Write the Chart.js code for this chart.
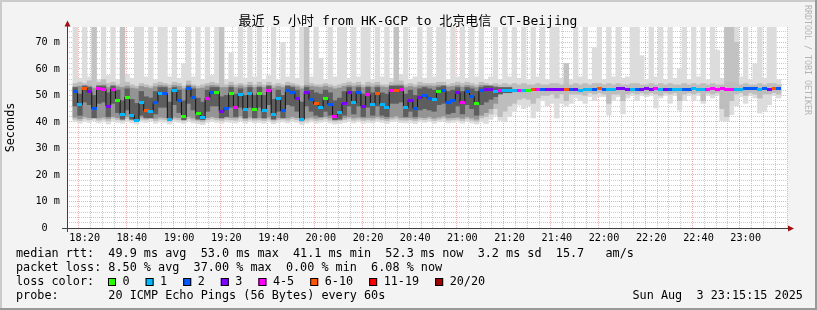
<!DOCTYPE html>
<html>
<head>
<meta charset="utf-8">
<script src="https://cdn.jsdelivr.net/npm/chart.js@4.4.0/dist/chart.umd.min.js"></script>
<style>
  html, body { margin: 0; padding: 0; background: #f3f3f3; }
  canvas { display: block; }
</style>
</head>
<body>
<canvas id="smoke" width="817" height="310"></canvas>
<script>
// 2-minute bins from 18:15 to 23:15 (x = minutes after 18:00)
const xTickMinutes = [20, 40, 60, 80, 100, 120, 140, 160, 180, 200, 220, 240, 260, 280, 300];
const xTickLabels = ['18:20', '18:40', '19:00', '19:20', '19:40', '20:00', '20:20', '20:40',
  '21:00', '21:20', '21:40', '22:00', '22:20', '22:40', '23:00'];
const yTickValues = [0, 10, 20, 30, 40, 50, 60, 70];
const yTickLabels = ['0  ', '10 m', '20 m', '30 m', '40 m', '50 m', '60 m', '70 m'];

// median rtt (ms) per bin
const median = [
  51.5, 46.5, 52.7, 51.5, 45.0, 52.7, 52.4, 46.0, 52.4, 48.2,
  42.7, 49.4, 42.5, 40.4, 47.2, 44.2, 44.0, 47.4, 50.9, 50.7,
  41.1, 51.8, 48.0, 41.9, 52.7, 49.4, 43.2, 41.5, 48.9, 51.2,
  51.2, 44.0, 45.0, 50.7, 45.6, 50.4, 44.7, 50.7, 44.5, 50.7,
  44.2, 51.9, 42.7, 48.7, 44.2, 51.7, 51.2, 48.8, 41.1, 51.2,
  48.5, 46.9, 45.5, 48.8, 46.7, 41.9, 43.4, 47.0, 51.2, 47.2,
  51.2, 46.0, 50.2, 46.7, 50.9, 46.7, 45.4, 51.9, 51.9, 52.4,
  45.4, 48.2, 45.2, 49.2, 50.0, 49.0, 48.5, 51.5, 52.0, 47.5,
  48.2, 51.0, 47.2, 51.4, 49.6, 47.0, 51.8, 52.2, 52.2, 51.6,
  52.0, 51.8, 51.8, 51.7, 52.0, 52.0, 52.0, 52.2, 52.4, 52.4,
  52.4, 52.3, 52.4, 52.4, 52.4, 52.3, 52.4, 52.0, 52.1, 52.2,
  52.4, 52.5, 52.2, 52.3, 52.4, 52.5, 52.5, 52.4, 52.2, 52.4,
  52.4, 52.5, 52.4, 52.5, 52.2, 52.4, 52.3, 52.2, 52.2, 52.4,
  52.4, 52.5, 52.3, 52.4, 52.3, 52.5, 52.4, 52.5, 52.4, 52.3,
  52.2, 52.2, 52.5, 52.5, 52.6, 52.4, 52.5, 52.4, 52.6, 52.5
];
// loss class per bin (index into lossColors)
const lossClass = [
  2, 1, 5, 3, 2, 4, 4, 3, 4, 0,
  1, 0, 1, 1, 1, 5, 1, 2, 1, 2,
  1, 1, 2, 0, 2, 2, 0, 1, 4, 2,
  0, 3, 2, 0, 4, 1, 1, 1, 0, 0,
  1, 4, 1, 1, 2, 2, 2, 3, 1, 3,
  2, 5, 1, 0, 2, 4, 1, 3, 3, 1,
  2, 3, 4, 1, 5, 1, 1, 4, 5, 4,
  1, 3, 2, 3, 2, 2, 1, 0, 2, 2,
  2, 3, 4, 2, 2, 0, 2, 3, 3, 1,
  4, 1, 1, 1, 4, 1, 0, 5, 4, 2,
  3, 3, 3, 3, 5, 2, 3, 1, 1, 1,
  2, 5, 2, 1, 1, 3, 3, 3, 1, 2,
  3, 3, 3, 4, 1, 3, 2, 1, 1, 2,
  2, 1, 1, 1, 4, 4, 4, 4, 4, 4,
  1, 1, 2, 2, 2, 1, 2, 3, 5, 2
];
// slowest / fastest ping per bin
const pingMax = [
  76, 56.5, 76, 57, 76, 56, 76, 57.5, 76, 56,
  76, 58, 56.5, 76, 76, 57, 76, 56, 76, 76,
  57, 76, 56.5, 62, 76, 57, 76, 56, 76, 57.5,
  76, 76, 56, 66, 57, 76, 56.5, 76, 57, 76,
  56, 57.5, 76, 56, 70, 57, 76, 56.5, 76, 76,
  57, 76, 64, 56, 76, 57, 76, 76, 56.5, 76,
  57, 76, 76, 56, 76, 57, 76, 56.5, 76, 58,
  76, 56, 57, 76, 56.5, 76, 57, 76, 76, 56,
  76, 57, 76, 56.5, 76, 57, 76, 56, 57, 76,
  56, 76, 57, 76, 56.5, 76, 56, 76, 57, 76,
  56, 76, 76, 56.5, 62, 56, 76, 57, 76, 56,
  68, 76, 56, 76, 57, 76, 56.5, 57, 76, 76,
  65, 56, 76, 57, 76, 56, 76, 56.5, 60, 76,
  56, 76, 57, 76, 56, 76, 67, 56.5, 76, 76,
  76, 57, 76, 56, 62, 76, 56.5, 76, 76, 56
];
const pingMin = [
  40, 39.5, 40.2, 39.8, 40.5, 39.6, 40, 39.2, 40.3, 39.8,
  39.5, 40.2, 39.6, 39.2, 40, 39.8, 40.4, 39.5, 40, 39.8,
  39.2, 40, 39.8, 39.4, 40.2, 39.6, 39.3, 39, 39.8, 40.2,
  39.8, 39.5, 40, 39.8, 39.6, 40.4, 39.5, 40, 39.6, 39.8,
  39.5, 40, 39.3, 39.8, 40, 39.6, 40.2, 39.8, 39, 39.6,
  40, 39.5, 39.8, 40.2, 39.6, 39.2, 39.4, 39.8, 40.2, 39.6,
  40, 39.5, 39.8, 39.6, 40.2, 39.8, 39.4, 40, 40.3, 39.7,
  39.6, 39.8, 39.4, 40, 39.8, 40.2, 39.5, 40, 40.4, 39.6,
  39.8, 40, 39.5, 40.2, 39.6, 39.2, 40, 39.4, 41, 42.5,
  40.6, 40, 42, 44, 46.4, 45, 46, 41.5, 44, 48,
  46, 47, 41.4, 47, 46, 47, 49, 48, 47, 49.5,
  48, 49.5, 49.5, 42.6, 48, 49.5, 43, 49, 50, 48,
  50, 49.5, 50, 45.2, 49, 50, 47, 50, 44.4, 48,
  50, 48, 50, 47, 50, 49, 50, 40.5, 40.2, 42.7,
  46, 49.5, 47, 50, 49, 43.3, 44, 46.5, 50, 49
];
// bins where several pings were slow (darker upper smoke)
const slowBins = [4, 10, 31, 49, 68, 104, 138, 139, 140];
const slowTop = [76, 76, 76, 76, 76, 62, 76, 76, 70];
// outer smoke band
const smokeHigh = [
  54.5, 55, 54.5, 55.5, 54, 55, 56, 54.5, 55, 54,
  54.5, 55, 54, 53.5, 54.5, 54, 53.5, 54.5, 55, 54.5,
  54, 55, 54.5, 53.5, 55.5, 54, 53.5, 54, 54.5, 55,
  54.5, 54, 54, 55, 54, 54.5, 54, 55, 54, 55,
  54, 55, 54, 54.5, 54, 55, 54.5, 54, 53.5, 55,
  54.5, 54, 54, 54.5, 54, 53.5, 54, 54.5, 55, 54.5,
  55, 54, 55, 54.5, 55, 54, 54, 55, 55.5, 55.5,
  54, 54.5, 54, 55, 54.5, 54.5, 54.5, 55, 55, 54,
  54.5, 55, 54.5, 55, 54.5, 54, 55, 54.5, 54, 54.5,
  54, 54.5, 54, 54.5, 54, 54.5, 54, 54, 54.5, 54,
  54, 54.5, 54.5, 54, 54.5, 54, 54.5, 54, 54.5, 54,
  54.5, 54.5, 54, 54.5, 54, 54.5, 54, 54, 54.5, 54.5,
  54, 54, 54.5, 54, 54.5, 54, 54.5, 54, 54, 54.5,
  54, 54.5, 54, 54.5, 54, 54.5, 54, 54, 55, 55,
  54.5, 54, 54.5, 54, 54, 54.5, 54, 54.5, 54.5, 54
];
const smokeLow = [
  41, 40.5, 41.2, 40.8, 41.5, 40.6, 41, 40.4, 41.3, 40.8,
  40.5, 41.2, 40.6, 40.2, 41, 40.8, 41.4, 40.5, 41, 40.8,
  40.2, 41, 40.8, 40.4, 41.2, 40.6, 40.3, 40, 40.8, 41.2,
  40.8, 40.5, 41, 40.8, 40.6, 41.4, 40.5, 41, 40.6, 40.8,
  40.5, 41, 40.3, 40.8, 41, 40.6, 41.2, 40.8, 40, 40.6,
  41, 40.5, 40.8, 41.2, 40.6, 40.2, 40.4, 40.8, 41.2, 40.6,
  41, 40.5, 40.8, 40.6, 41.2, 40.8, 40.4, 41, 41.3, 40.7,
  40.6, 40.8, 40.4, 41, 40.8, 41.2, 40.5, 41, 41.4, 40.6,
  40.8, 41, 40.5, 41.2, 40.6, 40.2, 41.5, 42, 43, 45,
  42, 44, 46, 47, 48.5, 49, 48.5, 47, 49, 50,
  50, 50.5, 49, 50.5, 48, 50.5, 50.5, 50.5, 50, 51,
  50.5, 51, 50.5, 47, 50.5, 50.5, 48, 50.5, 51, 50.5,
  51, 50.5, 51, 50.5, 50, 51, 50.5, 51, 48, 50.5,
  51, 50.5, 51, 48, 51, 50.5, 51, 45, 42, 48,
  50.5, 51, 50, 51, 50.5, 49, 50.5, 50.5, 51, 50.5
];
// inner smoke band (busy first half only)
const innerLow = [
  41.8, 41.2, 42, 41.6, 42.2, 41.5, 41.8, 41.3, 42, 41.6,
  41.4, 42, 41.5, 41, 41.8, 41.6, 42.2, 41.4, 41.8, 41.6,
  41, 41.8, 41.6, 41.2, 42, 41.5, 41.2, 41, 41.6, 42,
  41.6, 41.4, 41.8, 41.6, 41.5, 42.2, 41.4, 41.8, 41.5, 41.6,
  41.4, 41.8, 41.2, 41.6, 41.8, 41.5, 42, 41.6, 41, 41.5,
  41.8, 41.4, 41.6, 42, 41.5, 41, 41.2, 41.6, 42, 41.5,
  41.8, 41.4, 41.6, 41.5, 42, 41.6, 41.2, 41.8, 42.2, 41.6,
  41.5, 41.6, 41.2, 41.8, 41.6, 42, 41.4, 41.8, 42.2, 41.5,
  41.6, 41.8, 41.4, 42, 41.5, 41, 42.5, 43.5, 45, 47
];
const innerHigh = [
  53.2, 53.5, 53.8, 53.5, 52.8, 53.8, 54, 53, 53.8, 53.2,
  53, 53.5, 52.8, 52.5, 53.4, 53, 52.6, 53.3, 53.8, 53.6,
  52.8, 53.8, 53.4, 52.5, 54, 53.3, 52.6, 52.8, 53.5, 53.8,
  53.6, 53, 53, 53.8, 53, 53.6, 53, 53.8, 53, 53.6,
  53, 53.8, 52.8, 53.4, 53, 53.8, 53.6, 53.2, 52.5, 53.8,
  53.4, 53.2, 53, 53.5, 53, 52.5, 52.8, 53.4, 53.8, 53.4,
  53.8, 53, 53.6, 53.2, 53.8, 53.2, 53, 53.8, 54, 54,
  53, 53.4, 53, 53.6, 53.6, 53.6, 53.4, 53.8, 53.8, 53.2,
  53.4, 53.8, 53.2, 53.8, 53.5, 53, 53.8, 53.8, 53.6, 53.5
];
// dense core around the median
const coreLow = [
  46, 42.5, 47.5, 46.5, 41.5, 47, 47.5, 42, 47, 43.5,
  41, 44.5, 41, 40.8, 42.5, 41.5, 41.5, 43, 45.5, 45.5,
  40.8, 46.5, 43.5, 40.8, 47, 44.5, 41, 40.8, 44, 46,
  46, 41.5, 42, 45.5, 42, 45.5, 41.5, 45.5, 41.5, 45.5,
  41.5, 46.5, 41, 44, 41.5, 46.5, 46, 44, 40.8, 46,
  44, 42.5, 42, 44, 42.5, 40.8, 41, 42.5, 46, 43,
  46, 42, 45.5, 42.5, 46, 42.5, 42, 47, 47, 47.5,
  42, 44, 42, 44.5, 45, 44.5, 44, 46.5, 47, 43,
  43.5, 46, 43, 46.5, 45, 42.5, 46.5, 47.5, 48.5, 49.5,
  50.5, 51, 51
];
const coreHigh = [
  53, 50.5, 53.5, 53, 50, 53.5, 53.5, 51, 53.5, 52,
  48, 52.5, 48.5, 47, 51.5, 49.5, 49, 51.5, 53, 53,
  47.5, 53, 52, 48, 53.5, 52.5, 49, 47.5, 52, 53,
  53, 49.5, 50, 53, 50.5, 52.5, 50, 53, 50, 53,
  50, 53.5, 48.5, 52, 50, 53.5, 53, 52, 47.5, 53,
  52, 51, 50.5, 52, 51, 48, 49, 51.5, 53, 51.5,
  53, 50.5, 53, 51, 53, 51, 50.5, 53.5, 53.5, 53.5,
  50.5, 52, 50, 52.5, 53, 52.5, 52, 53, 53.5, 51.5,
  52, 53, 51.5, 53, 52.5, 51.5, 53, 53.5, 53.5, 53,
  53, 53, 53
];

const lossColors = ['#26ff00', '#00b8ff', '#0059ff', '#7e00ff', '#ff00ff', '#ff5500', '#ff0000', '#a10000'];
const lossLabels = ['0', '1', '2', '3', '4-5', '6-10', '11-19', '20/20'];

const MONO = '"DejaVu Sans Mono", monospace';
const MAJOR = 'rgba(222, 80, 80, 0.45)';
const MINOR = 'rgba(140, 140, 140, 0.45)';

const binMinutes = median.map((_, i) => 16 + 2 * i);

function band(lo, hi) {
  return binMinutes.map((x, i) => ({
    x: x,
    y: (lo[i] == null || hi[i] == null) ? null : [lo[i], hi[i]]
  }));
}

function smokeSet(data, color) {
  return {
    type: 'bar', data: data, backgroundColor: color, borderWidth: 0,
    grouped: false, barPercentage: 1, categoryPercentage: 1, inflateAmount: 0.3
  };
}

const slowData = slowBins.map((b, k) => ({ x: binMinutes[b], y: [smokeHigh[b], slowTop[k]] }));

// little 5x3 marks for the median, one per loss colour
const marks = lossColors.map(c => {
  const cv = document.createElement('canvas');
  cv.width = 5; cv.height = 3;
  const g = cv.getContext('2d');
  g.fillStyle = c;
  g.fillRect(0, 0, 5, 3);
  return cv;
});

const medianPts = binMinutes.map((x, i) => ({ x: x, y: median[i] }));

const frame = {
  id: 'frame',
  beforeDraw(chart) {
    const { ctx, chartArea: a } = chart;
    ctx.save();
    ctx.fillStyle = '#f3f3f3';
    ctx.fillRect(0, 0, 817, 310);
    ctx.fillStyle = '#cbcbcb';
    ctx.fillRect(0, 0, 817, 2);
    ctx.fillRect(0, 0, 2, 310);
    ctx.fillStyle = '#999999';
    ctx.fillRect(0, 308, 817, 2);
    ctx.fillRect(815, 0, 2, 310);
    ctx.fillStyle = '#ffffff';
    ctx.fillRect(a.left, a.top, a.right - a.left, a.bottom - a.top);
    ctx.restore();
  },
  afterDraw(chart) {
    const { ctx, chartArea: a } = chart;
    ctx.save();

    // axes + arrows
    ctx.strokeStyle = '#404040';
    ctx.lineWidth = 1;
    ctx.beginPath();
    ctx.moveTo(62, a.bottom + 0.5);
    ctx.lineTo(790, a.bottom + 0.5);
    ctx.moveTo(a.left + 0.5, a.bottom + 4);
    ctx.lineTo(a.left + 0.5, 24);
    ctx.stroke();
    ctx.fillStyle = '#a01010';
    ctx.beginPath();
    ctx.moveTo(794, a.bottom + 0.5);
    ctx.lineTo(788, a.bottom - 2.5);
    ctx.lineTo(788, a.bottom + 3.5);
    ctx.closePath();
    ctx.fill();
    ctx.beginPath();
    ctx.moveTo(a.left + 0.5, 20.5);
    ctx.lineTo(a.left - 2.5, 26.5);
    ctx.lineTo(a.left + 3.5, 26.5);
    ctx.closePath();
    ctx.fill();

    // title
    ctx.fillStyle = '#000';
    ctx.font = '13px "DejaVu Sans Mono", "Noto Sans CJK SC", monospace';
    ctx.textAlign = 'center';
    ctx.textBaseline = 'alphabetic';
    ctx.fillText('最近 5 小时 from HK-GCP to 北京电信 CT-Beijing', 408, 25);

    // vertical axis title
    ctx.save();
    ctx.translate(10.5, 127.5);
    ctx.rotate(-Math.PI / 2);
    ctx.font = '11.8px ' + MONO;
    ctx.textBaseline = 'middle';
    ctx.fillText('Seconds', 0, 0);
    ctx.restore();

    // watermark
    ctx.save();
    ctx.translate(807.5, 5);
    ctx.rotate(Math.PI / 2);
    ctx.font = '8.3px ' + MONO;
    ctx.fillStyle = '#b4b4b4';
    ctx.textAlign = 'left';
    ctx.textBaseline = 'middle';
    ctx.fillText('RRDTOOL / TOBI OETIKER', 0, 0);
    ctx.restore();

    // legend lines
    ctx.font = '11.8px ' + MONO;
    ctx.textAlign = 'left';
    ctx.textBaseline = 'alphabetic';
    ctx.fillStyle = '#000';
    ctx.fillText('median rtt:  49.9 ms avg  53.0 ms max  41.1 ms min  52.3 ms now  3.2 ms sd  15.7   am/s', 16, 257);
    ctx.fillText('packet loss: 8.50 % avg  37.00 % max  0.00 % min  6.08 % now', 16, 271);
    ctx.fillText('loss color:', 16, 285);
    ctx.fillText('probe:       20 ICMP Echo Pings (56 Bytes) every 60s', 16, 299);
    ctx.fillText('Sun Aug  3 23:15:15 2025', 632.5, 299);

    let x = 108;
    lossColors.forEach((c, i) => {
      ctx.fillStyle = c;
      ctx.fillRect(x, 278, 8, 8);
      ctx.strokeStyle = '#000';
      ctx.strokeRect(x + 0.5, 278.5, 7, 7);
      ctx.fillStyle = '#000';
      ctx.fillText(lossLabels[i], x + 14.5, 285);
      x += 14.5 + ctx.measureText(lossLabels[i]).width + 16;
    });
    ctx.restore();
  }
};

new Chart(document.getElementById('smoke'), {
  type: 'bar',
  data: {
    datasets: [
      {
        type: 'line', data: medianPts, showLine: false,
        pointStyle: c => marks[lossClass[c.dataIndex]],
        pointRadius: 2, pointHoverRadius: 2
      },
      {
        type: 'line', data: medianPts, stepped: 'middle',
        borderColor: '#141414', borderWidth: 1, pointRadius: 0
      },
      smokeSet(band(coreLow, coreHigh), '#5e5e5e'),
      smokeSet(band(innerLow, innerHigh), '#949494'),
      smokeSet(band(smokeLow, smokeHigh), '#bdbdbd'),
      smokeSet(slowData, '#c2c2c2'),
      smokeSet(band(pingMin, pingMax), '#dcdcdc')
    ]
  },
  options: {
    responsive: false,
    devicePixelRatio: 1,
    animation: false,
    events: [],
    layout: { padding: { left: 0, right: 30, top: 27, bottom: 0 } },
    plugins: { legend: { display: false }, tooltip: { enabled: false } },
    scales: {
      x: {
        type: 'linear', min: 15, max: 315, z: 1,
        afterBuildTicks: s => {
          s.ticks = [];
          for (let m = 15; m <= 315; m += 5) s.ticks.push({ value: m });
        },
        afterFit: s => { s.height = 82; },
        grid: {
          color: c => (c.tick && xTickMinutes.includes(c.tick.value)) ? MAJOR : MINOR,
          lineWidth: 1, drawTicks: false
        },
        border: { display: false, dash: [1, 1] },
        ticks: {
          autoSkip: false, maxRotation: 0, minRotation: 0, padding: 4,
          color: '#000', font: { family: MONO, size: 10.2 },
          callback: v => {
            const k = xTickMinutes.indexOf(v);
            return k >= 0 ? xTickLabels[k] : '';
          }
        }
      },
      y: {
        min: 0, max: 75.8, z: 1,
        afterBuildTicks: s => {
          s.ticks = [];
          for (let v = 0; v <= 74; v += 2) s.ticks.push({ value: v });
        },
        afterFit: s => { s.width = 67; },
        grid: {
          color: c => (c.tick && yTickValues.includes(c.tick.value)) ? MAJOR : MINOR,
          lineWidth: 1, drawTicks: false
        },
        border: { display: false, dash: [1, 1] },
        ticks: {
          autoSkip: false, padding: 7, color: '#000', font: { family: MONO, size: 10.2 },
          callback: v => {
            const k = yTickValues.indexOf(v);
            return k >= 0 ? yTickLabels[k] : '';
          }
        }
      }
    }
  },
  plugins: [frame]
});
</script>
</body>
</html>
